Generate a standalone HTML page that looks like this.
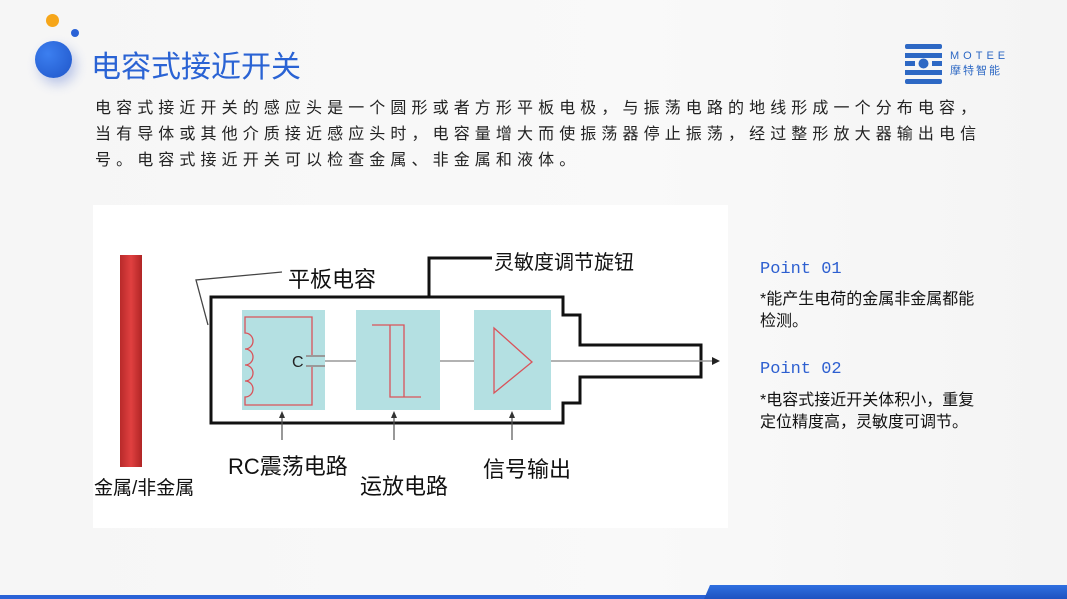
<!DOCTYPE html>
<html><head><meta charset="utf-8"><style>
body{margin:0;width:1067px;height:599px;overflow:hidden;background:linear-gradient(90deg,#f6f6f6,#f9f9f9 60%,#f4f4f4);position:relative;font-family:"Liberation Sans","Noto Sans CJK SC",sans-serif}
.a{position:absolute;white-space:nowrap}
.p{left:95px;font-size:16px;letter-spacing:5.1px;color:#222}
.pt{font-family:"Liberation Mono",monospace;color:#2d5fd0;font-size:17px;left:760px}
.t{left:760px;font-size:16px;color:#111;line-height:22px}
</style></head><body>
<div class="a" style="left:35px;top:41px;width:37px;height:37px;border-radius:50%;background:radial-gradient(circle at 35% 35%,#3c7ff0,#1f55c8);box-shadow:4px 6px 12px rgba(40,80,200,.3)"></div>
<div class="a" style="left:46px;top:14px;width:13px;height:13px;border-radius:50%;background:#f6a61a"></div>
<div class="a" style="left:71px;top:29px;width:8px;height:8px;border-radius:50%;background:#2a62d6"></div>
<div class="a" style="left:91px;top:42px;font-size:30px;color:#2a63d4">电容式接近开关</div>
<svg class="a" style="left:903px;top:43px" width="42" height="42"><g fill="#2d68c4"><rect x="2" y="1" width="37" height="5" rx="2"/><rect x="2" y="10" width="37" height="5"/><rect x="2" y="18" width="10" height="5"/><rect x="29" y="18" width="10" height="5"/><rect x="2" y="27" width="37" height="5"/><rect x="2" y="36" width="37" height="5" rx="2"/><circle cx="20.5" cy="20.5" r="5"/></g></svg>
<div class="a" style="left:950px;top:50px;font-size:11px;letter-spacing:4px;color:#2d68c4">MOTEE</div>
<div class="a" style="left:950px;top:62px;font-size:11px;letter-spacing:2px;color:#2d68c4">摩特智能</div>
<div class="a p" style="top:94px">电容式接近开关的感应头是一个圆形或者方形平板电极，与振荡电路的地线形成一个分布电容，</div>
<div class="a p" style="top:120px">当有导体或其他介质接近感应头时，电容量增大而使振荡器停止振荡，经过整形放大器输出电信</div>
<div class="a p" style="top:146px">号。电容式接近开关可以检查金属、非金属和液体。</div>
<div class="a" style="left:93px;top:205px;width:635px;height:323px;background:#fff"></div>
<svg class="a" style="left:0;top:0" width="1067" height="599">
<defs><linearGradient id="r" x1="0" x2="1"><stop offset="0" stop-color="#b82a2a"/><stop offset=".5" stop-color="#e04040"/><stop offset="1" stop-color="#b02525"/></linearGradient></defs>
<rect x="120" y="255" width="22" height="212" fill="url(#r)"/>
<g fill="#b4e0e2"><rect x="242" y="310" width="83" height="100"/><rect x="356" y="310" width="84" height="100"/><rect x="474" y="310" width="77" height="100"/></g>
<path d="M563 297H211V423H563V403H580V377H701V345H580V315H563Z" fill="none" stroke="#111" stroke-width="3"/>
<path d="M429 297V258H492" fill="none" stroke="#111" stroke-width="3"/>
<path d="M282 272L196 280L208 325" fill="none" stroke="#444" stroke-width="1.3"/>
<path d="M325 361H356M440 361H474M551 361H716" stroke="#999" stroke-width="1.5"/>
<path d="M712 357L720 361L712 365Z" fill="#222"/>
<g fill="none" stroke="#d9535a" stroke-width="1.3">
<path d="M312 355V317H245V333a8 8 0 0 1 0 16a8 8 0 0 1 0 16a8 8 0 0 1 0 16a8 8 0 0 1 0 16V405H312V367"/>
<path d="M372 325H404V397M390 325V397H421"/>
<path d="M494 328L532 362L494 393Z"/>
</g>
<path d="M306 356H325M306 366H325" stroke="#999" stroke-width="2"/>
<text x="292" y="367" font-size="16" fill="#222" font-family="Liberation Sans">C</text>
<g stroke="#555" stroke-width="1.2"><path d="M282 440V413M394 440V413M512 440V413"/></g>
<g fill="#333"><path d="M279 418L282 411L285 418Z"/><path d="M391 418L394 411L397 418Z"/><path d="M509 418L512 411L515 418Z"/></g>
</svg>
<div class="a" style="left:288px;top:262px;font-size:22px;color:#111">平板电容</div>
<div class="a" style="left:494px;top:246px;font-size:20px;color:#111">灵敏度调节旋钮</div>
<div class="a" style="left:228px;top:449px;font-size:22px;color:#111">RC震荡电路</div>
<div class="a" style="left:360px;top:469px;font-size:22px;color:#111">运放电路</div>
<div class="a" style="left:483px;top:452px;font-size:22px;color:#111">信号输出</div>
<div class="a" style="left:94px;top:473px;font-size:19px;color:#111">金属/非金属</div>
<div class="a pt" style="top:260px">Point 01</div>
<div class="a t" style="top:289px">*能产生电荷的金属非金属都能<br>检测。</div>
<div class="a pt" style="top:360px">Point 02</div>
<div class="a t" style="top:390px">*电容式接近开关体积小，重复<br>定位精度高，灵敏度可调节。</div>
<div class="a" style="left:0;top:595px;width:710px;height:4px;background:#2a62d6"></div>
<div class="a" style="left:704px;top:585px;width:363px;height:14px;background:linear-gradient(#2f6fe0,#1e52c0);clip-path:polygon(6px 0,100% 0,100% 100%,0 100%)"></div>
</body></html>
